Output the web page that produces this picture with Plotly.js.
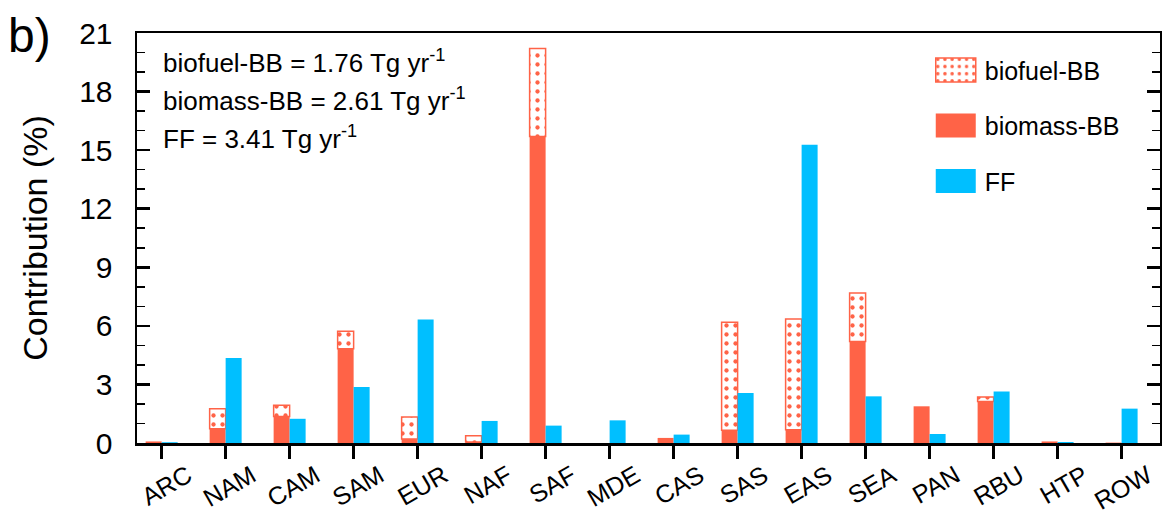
<!DOCTYPE html>
<html>
<head>
<meta charset="utf-8">
<script src="https://cdn.plot.ly/plotly-3.0.1.min.js"></script>
<style>
  html, body { margin: 0; padding: 0; background: #fff; }
  #chart { width: 1162px; height: 514px; }
</style>
</head>
<body>
<div id="chart"></div>
<script>
const regions = ['ARC','NAM','CAM','SAM','EUR','NAF','SAF','MDE','CAS','SAS','EAS','SEA','PAN','RBU','HTP','ROW'];
const biomassBB = [0.08, 0.73, 1.36, 4.83, 0.20, 0.05, 15.70, 0.00, 0.26, 0.65, 0.68, 5.20, 1.88, 2.12, 0.08, 0.02];
const biofuelBB = [0.00, 1.03, 0.57, 0.89, 1.13, 0.32, 4.50, 0.00, 0.00, 5.53, 5.67, 2.48, 0.00, 0.24, 0.00, 0.00];
const fossilFF  = [0.04, 4.35, 1.24, 2.87, 6.33, 1.13, 0.89, 1.16, 0.43, 2.56, 15.28, 2.39, 0.46, 2.64, 0.05, 1.76];
const yTicks = [0, 3, 6, 9, 12, 15, 18, 21];
const totals = ['biofuel-BB = 1.76 Tg yr<sup>-1</sup>', 'biomass-BB = 2.61 Tg yr<sup>-1</sup>', 'FF = 3.41 Tg yr<sup>-1</sup>'];

const RED = '#FF6347', BLUE = '#00BFFF';
const FONT = 'Liberation Sans, Arial, Helvetica, sans-serif';

const traces = [
  {
    type: 'bar', name: 'biofuel-BB', x: regions,
    y: biofuelBB.map(v => (v > 0 ? v : null)), base: biomassBB,
    width: 0.25, offset: -0.25, legendgroup: 'a',
    marker: { color: '#ffffff', line: { color: RED, width: 1.5 },
              pattern: { shape: '.', fgcolor: RED, bgcolor: '#ffffff', size: 9, solidity: 0.18 } }
  },
  {
    type: 'bar', name: 'biomass-BB', x: regions, y: biomassBB,
    width: 0.25, offset: -0.25, legendgroup: 'b',
    marker: { color: RED, line: { width: 0 } }
  },
  {
    type: 'bar', name: 'FF', x: regions, y: fossilFF,
    width: 0.25, offset: 0, legendgroup: 'c',
    marker: { color: BLUE, line: { width: 0 } }
  }
];

const annotations = totals.map((t, i) => ({
  xref: 'paper', yref: 'paper', x: (161 - 137) / 1023, y: (443 - (62 + i * 37.5)) / 410,
  xanchor: 'left', yanchor: 'middle', showarrow: false, text: t,
  font: { family: FONT, size: 26, color: '#000' }
}));
annotations.push({
  xref: 'paper', yref: 'paper', x: (6 - 137) / 1023, y: (443 - 35) / 410,
  xanchor: 'left', yanchor: 'middle', showarrow: false, text: 'b)',
  font: { family: FONT, size: 48, color: '#000' }
});

const layout = {
  width: 1162, height: 514,
  margin: { l: 137, r: 2, t: 33, b: 71, pad: 0 },
  paper_bgcolor: '#fff', plot_bgcolor: '#fff',
  barmode: 'overlay',
  font: { family: FONT, color: '#000' },
  showlegend: true,
  legend: {
    x: 0.772, y: 0.965, xanchor: 'left', yanchor: 'top',
    font: { family: FONT, size: 25, color: '#000' },
    itemwidth: 48, tracegroupgap: 20, traceorder: 'grouped',
    bgcolor: 'rgba(0,0,0,0)', borderwidth: 0
  },
  xaxis: {
    range: [-0.385, 15.6], type: 'category',
    showline: true, linecolor: '#000', linewidth: 2.5, mirror: true,
    ticks: 'outside', ticklen: 13, tickwidth: 2.5, tickcolor: '#000',
    tickangle: -30, tickfont: { family: FONT, size: 25, color: '#000' },
    ticklabelshift: 26, ticklabelstandoff: -7,
    showgrid: false, zeroline: false
  },
  yaxis: {
    range: [0, 21], tickvals: yTicks, ticktext: yTicks.map(String),
    showline: true, linecolor: '#000', linewidth: 2.5, mirror: 'ticks',
    ticks: 'inside', ticklen: 13, tickwidth: 2.5, tickcolor: '#000',
    minor: { dtick: 1, ticks: 'inside', ticklen: 8, tickwidth: 1.5, tickcolor: '#000', showgrid: false },
    tickfont: { family: FONT, size: 30, color: '#000' },
    ticklabelstandoff: 16,
    showgrid: false, zeroline: false,
    title: { text: 'Contribution (%)', font: { family: FONT, size: 34, color: '#000' }, standoff: 21 }
  },
  annotations: annotations
};

Plotly.newPlot('chart', traces, layout, { staticPlot: true }).then(gd => {
  gd.querySelectorAll('.legend .legendpoints path').forEach(p => {
    p.setAttribute('d', 'M20,12H-20V-12H20Z');
  });
});
</script>
</body>
</html>
